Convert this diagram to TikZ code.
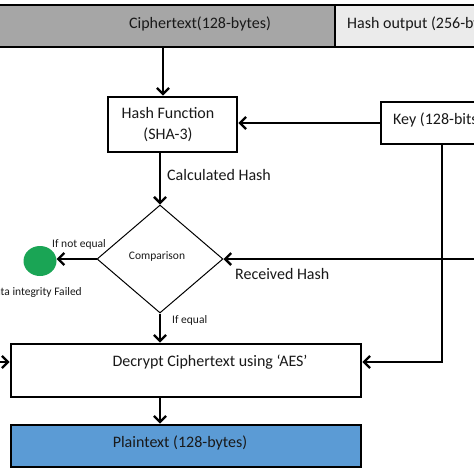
\documentclass[tikz,border=0pt]{standalone}
\usepackage{fontspec}
\setmainfont{Carlito}
\usetikzlibrary{arrows.meta,shapes.geometric}
\definecolor{cgray}{HTML}{A6A6A6}
\definecolor{lgray}{HTML}{EBEBEB}
\definecolor{pblue}{HTML}{5B9BD5}
\definecolor{okgreen}{HTML}{1AA555}
\begin{document}
\begin{tikzpicture}[x=1pt,y=-1pt,
  box/.style={draw=black,line width=2.8pt,rectangle,inner sep=0pt},
  arr/.style={draw=black,line width=2.3pt,-{Straight Barb[length=6pt,width=12pt]}},
  big/.style={font=\fontsize{16}{21}\selectfont,text=black!90},
  small/.style={font=\fontsize{11.5}{13}\selectfont,text=black!90}]
\useasboundingbox (0,0) rectangle (474,474);
\fill[white] (0,0) rectangle (474,474);
% top bar
\node[box,fill=cgray,minimum width=350pt,minimum height=42pt] (cipher) at (160,26) {};
\node[box,fill=lgray,minimum width=250pt,minimum height=42pt] (hashout) at (460,26) {};
\node[big] (ciphertxt) at (200,24) {Ciphertext(128-bytes)};
\node[big,anchor=west,inner sep=0pt] (hashouttxt) at (347,24) {Hash output (256-bytes)};
% hash function
\node[box,fill=white,minimum width=129pt,minimum height=55pt] (hash) at (172.5,124.5) {};
\node[big,align=center] (hashtxt) at (168,125) {Hash Function\\(SHA-3)};
% key
\node[box,fill=white,minimum width=150pt,minimum height=42pt] (key) at (456,123) {};
\node[big,anchor=west,inner sep=0pt] (keytxt) at (393,120) {Key (128-bits)};
% comparison
\node[draw=black,line width=1pt,diamond,minimum width=126pt,minimum height=108pt,inner sep=0pt] (cmp) at (160,259) {};
\node[small] (cmptxt) at (157,256) {Comparison};
% failure
\node[ellipse,fill=okgreen,minimum width=33pt,minimum height=30pt,inner sep=0pt] (fail) at (40,261) {};
% decrypt
\node[box,fill=white,minimum width=350pt,minimum height=53pt] (dec) at (186,370.5) {};
\node[big] (dectxt) at (210,362) {Decrypt Ciphertext using ‘AES’};
% plaintext
\node[box,fill=pblue,minimum width=350pt,minimum height=42pt] (plain) at (186,446) {};
\node[big] (plaintxt) at (180,443) {Plaintext (128-bytes)};
% helper coordinates
\coordinate (c1) at (163,0);
\coordinate (rh) at (500,259);
\coordinate (kx) at (442,0);
\coordinate (dy) at (0,362);
\coordinate (lin) at (-20,362);
% connectors
\draw[arr] (cipher.south -| c1) -- (hash.north -| c1);
\draw[arr] (key.west) -- (hash.east |- key.west);
\draw[arr] (hash.south -| cmp.north) -- (cmp.north);
\draw[arr] (cmp.west) -- (fail.east |- cmp.west);
\draw[arr] (rh) -- (cmp.east);
\draw[arr] (key.south -| kx) |- (dec.east |- dy);
\draw[arr] (cmp.south) -- (dec.north -| cmp.south);
\draw[arr] (lin) -- (dec.west |- lin);
\draw[arr] (dec.south -| cmp.south) -- (plain.north -| cmp.south);
% labels
\node[big,anchor=west,inner sep=0pt] (calc) at (167,175) {Calculated Hash};
\node[big,anchor=west,inner sep=0pt] (rhtxt) at (235,274) {Received Hash};
\node[small,inner sep=0pt] (neqtxt) at (79,244) {If not equal};
\node[small,anchor=west,inner sep=0pt] (eqtxt) at (172,320) {If equal};
\node[small,anchor=east,inner sep=0pt] (failtxt) at (82,292) {Data integrity Failed};
\end{tikzpicture}
\end{document}
